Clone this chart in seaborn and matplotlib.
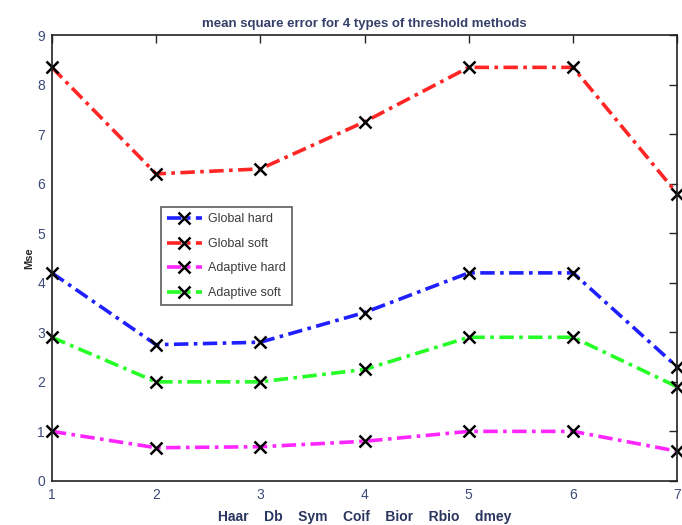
import numpy as np
import pandas as pd
import seaborn as sns
import matplotlib
matplotlib.use("Agg")
import matplotlib.pyplot as plt

x_vals = [1, 2, 3, 4, 5, 6, 7]
global_hard = [4.2, 2.75, 2.8, 3.4, 4.2, 4.2, 2.3]
global_soft = [8.35, 6.2, 6.3, 7.25, 8.35, 8.35, 5.8]
adaptive_hard = [1.0, 0.67, 0.69, 0.8, 1.0, 1.0, 0.6]
adaptive_soft = [2.9, 2.0, 2.0, 2.25, 2.9, 2.9, 1.9]
series_names = ["Global hard", "Global soft", "Adaptive hard", "Adaptive soft"]
series_colors = ["#1f1fff", "#ff2525", "#ff25ff", "#25ff25"]
wavelets = ["Haar", "Db", "Sym", "Coif", "Bior", "Rbio", "dmey"]

sns.set_style("white")
plt.rcParams["font.family"] = ["Liberation Sans Narrow", "Liberation Sans", "DejaVu Sans"]

fig = plt.figure(figsize=(6.82, 5.25), dpi=100)
ax = fig.add_axes([0.076, 0.084, 0.917, 0.849])

all_series = [global_hard, global_soft, adaptive_hard, adaptive_soft]
for name, vals, col in zip(series_names, all_series, series_colors):
    sns.lineplot(x=x_vals, y=vals, ax=ax, color=col, label=name,
                 linewidth=2.6, dashes=False, marker="x", markersize=9,
                 markeredgecolor="k", markeredgewidth=1.8, clip_on=False)
for ln in ax.get_lines():
    ln.set_linestyle((0, (4, 1.5, 1, 1.5)))

ax.set_xlim(1, 7)
ax.set_ylim(0, 9)
ax.set_xticks(x_vals)
ax.set_yticks(range(10))
tick_col = "#3b4a78"
ax.tick_params(direction="in", length=6, top=True, right=True, labelsize=10,
               labelcolor=tick_col, width=1, pad=5)
for s in ax.spines.values():
    s.set_color("#222222")
    s.set_linewidth(1.2)

ax.set_title("mean square error for 4 types of threshold methods", fontsize=9.5,
             color="#34406a", fontweight="bold", pad=6)
ax.set_ylabel("Mse", fontsize=8, fontweight="bold", labelpad=2)
ax.set_xlabel("    ".join(wavelets), fontsize=10, fontweight="bold",
              color="#2a3560", labelpad=6)

leg = ax.legend(loc="upper left", bbox_to_anchor=(0.164, 0.628), fontsize=9,
                frameon=True, fancybox=False, edgecolor="#333333",
                handlelength=2.8, borderpad=0.5, labelspacing=1.0,
                handletextpad=0.5)
for t in leg.get_texts():
    t.set_color("#3b3b3b")
leg.get_frame().set_linewidth(1.2)

fig.savefig("out.png", dpi=100)
